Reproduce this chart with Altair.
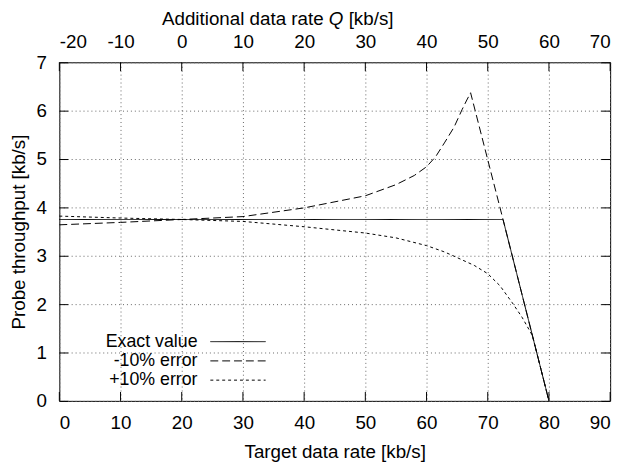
import altair as alt
import pandas as pd

# ---- data ----
target_ticks = [0, 10, 20, 30, 40, 50, 60, 70, 80, 90]
additional_ticks = [-20, -10, 0, 10, 20, 30, 40, 50, 60, 70]
y_ticks = [0, 1, 2, 3, 4, 5, 6, 7]
OFFSET = 20  # additional data rate = target data rate - 20

series_names = ["Exact value", "-10% error", "+10% error"]

exact_x = [0, 72.5, 80]
exact_y = [3.75, 3.75, 0]

minus_x = [0, 10, 20, 30, 40, 50, 55, 58, 60, 61.5, 63, 64.5, 65.8, 66.5, 67.2, 72.5, 80]
minus_y = [3.64, 3.69, 3.75, 3.81, 3.99, 4.24, 4.47, 4.66, 4.84, 5.05, 5.35, 5.66, 6.02, 6.2, 6.37, 3.75, 0]

plus_x = [0, 10, 20, 30, 40, 50, 55, 60, 62.7, 64, 67.8, 70, 72, 74, 75.6, 77.3, 80]
plus_y = [3.82, 3.78, 3.75, 3.71, 3.6, 3.47, 3.37, 3.21, 3.09, 3.02, 2.8, 2.63, 2.38, 2.03, 1.73, 1.35, 0]

top_title_parts = ["Additional data rate", "Q", "[kb/s]"]

rows = []
for name, xs, ys in [(series_names[0], exact_x, exact_y),
                     (series_names[1], minus_x, minus_y),
                     (series_names[2], plus_x, plus_y)]:
    for a, b in zip(xs, ys):
        rows.append({"series": name, "x": a, "y": b})
df = pd.DataFrame(rows)

W, H = 558, 343
FONT = "Liberation Sans"
FS = 19
dash_range = [[1, 0], [8, 4], [3, 3]]
GRID_DASH = [1, 3]
GRID_COLOR = "#666666"
xscale = alt.Scale(domain=[0, 90], nice=False)
yscale = alt.Scale(domain=[0, 7], nice=False)

y_axis = alt.Axis(values=y_ticks, title="Probe throughput [kb/s]",
                  labelPadding=13, titlePadding=8, grid=True)
y_enc = alt.Y("y:Q", scale=yscale, axis=y_axis)

yt = pd.DataFrame({"y": y_ticks})
xt = pd.DataFrame({"x": target_ticks})

lines = alt.Chart(df).mark_line(color="black", strokeWidth=1).encode(
    x=alt.X("x:Q", scale=xscale,
            axis=alt.Axis(values=target_ticks, title="Target data rate [kb/s]",
                          labelPadding=13, titlePadding=10, grid=True)),
    y=y_enc,
    strokeDash=alt.StrokeDash("series:N",
                              scale=alt.Scale(domain=series_names, range=dash_range),
                              legend=None),
)

# top axis: Additional data rate, drawn on the shared x scale
top = alt.Chart(pd.DataFrame({"q": additional_ticks})).transform_calculate(
    x=f"datum.q + {OFFSET}"
).mark_rule(opacity=0).encode(
    x=alt.X("x:Q", scale=xscale,
            axis=alt.Axis(orient="top", values=[q + OFFSET for q in additional_ticks],
                          grid=False, title=None, labelPadding=11,
                          labelExpr=f"(datum.value - {OFFSET}) < 0 ? '-' + abs(datum.value - {OFFSET}) : '' + (datum.value - {OFFSET})")),
)

# top axis title with italic Q (three text pieces)
one = pd.DataFrame({"k": [0]})
TY = -38
TX = 273
SP = 5.3
QW = 14.8
t_left = alt.Chart(one).mark_text(align="right", baseline="alphabetic", font=FONT,
                                  fontSize=FS, color="black").encode(
    x=alt.value(TX - SP), y=alt.value(TY), text=alt.value(top_title_parts[0]))
t_mid = alt.Chart(one).mark_text(align="left", baseline="alphabetic", font=FONT,
                                 fontSize=FS, fontStyle="italic", color="black").encode(
    x=alt.value(TX), y=alt.value(TY), text=alt.value(top_title_parts[1]))
t_right = alt.Chart(one).mark_text(align="left", baseline="alphabetic", font=FONT,
                                   fontSize=FS, color="black").encode(
    x=alt.value(TX + QW + SP), y=alt.value(TY), text=alt.value(top_title_parts[2]))

# inward ticks
TL = 9
tick_bottom = alt.Chart(xt).mark_rule(color="black").encode(
    x=alt.X("x:Q", scale=xscale, axis=None), y=alt.value(H), y2=alt.value(H - TL))
tick_top = alt.Chart(xt).mark_rule(color="black").encode(
    x=alt.X("x:Q", scale=xscale, axis=None), y=alt.value(0), y2=alt.value(TL))
tick_left = alt.Chart(yt).mark_rule(color="black", yOffset=0.5).encode(
    y=y_enc, x=alt.value(0), x2=alt.value(TL))
tick_right = alt.Chart(yt).mark_rule(color="black", yOffset=0.5).encode(
    y=y_enc, x=alt.value(W), x2=alt.value(W - TL))

# legend (gnuplot style: text on the left, line sample on the right)
leg_layers = []
leg_y = [283, 302.5, 322]
for name, dash, ly in zip(series_names, dash_range, leg_y):
    leg_layers.append(
        alt.Chart(one).mark_text(align="right", baseline="middle", font=FONT,
                                 fontSize=18, color="black").encode(
            x=alt.value(140), y=alt.value(ly), text=alt.value(name)))
    leg_layers.append(
        alt.Chart(one).mark_rule(color="black", strokeWidth=1, strokeDash=dash).encode(
            x=alt.value(153), x2=alt.value(209), y=alt.value(ly)))

chart = alt.layer(lines, top, t_left, t_mid, t_right,
                  tick_bottom, tick_top, tick_left, tick_right,
                  *leg_layers).resolve_axis(x="independent").properties(
    width=W, height=H,
    autosize=alt.AutoSizeParams(type="none"),
    padding={"left": 52, "top": 52, "right": 11, "bottom": 65},
).configure_view(stroke="black", strokeWidth=1).configure_axis(
    labelFont=FONT, labelFontSize=FS, labelColor="black",
    titleFont=FONT, titleFontSize=FS, titleFontWeight="normal", titleColor="black",
    domain=False, ticks=False, tickSize=0,
    gridColor=GRID_COLOR, gridDash=GRID_DASH, gridWidth=1,
)

chart.save("out.html", embed_options={"renderer": "svg", "actions": False})
